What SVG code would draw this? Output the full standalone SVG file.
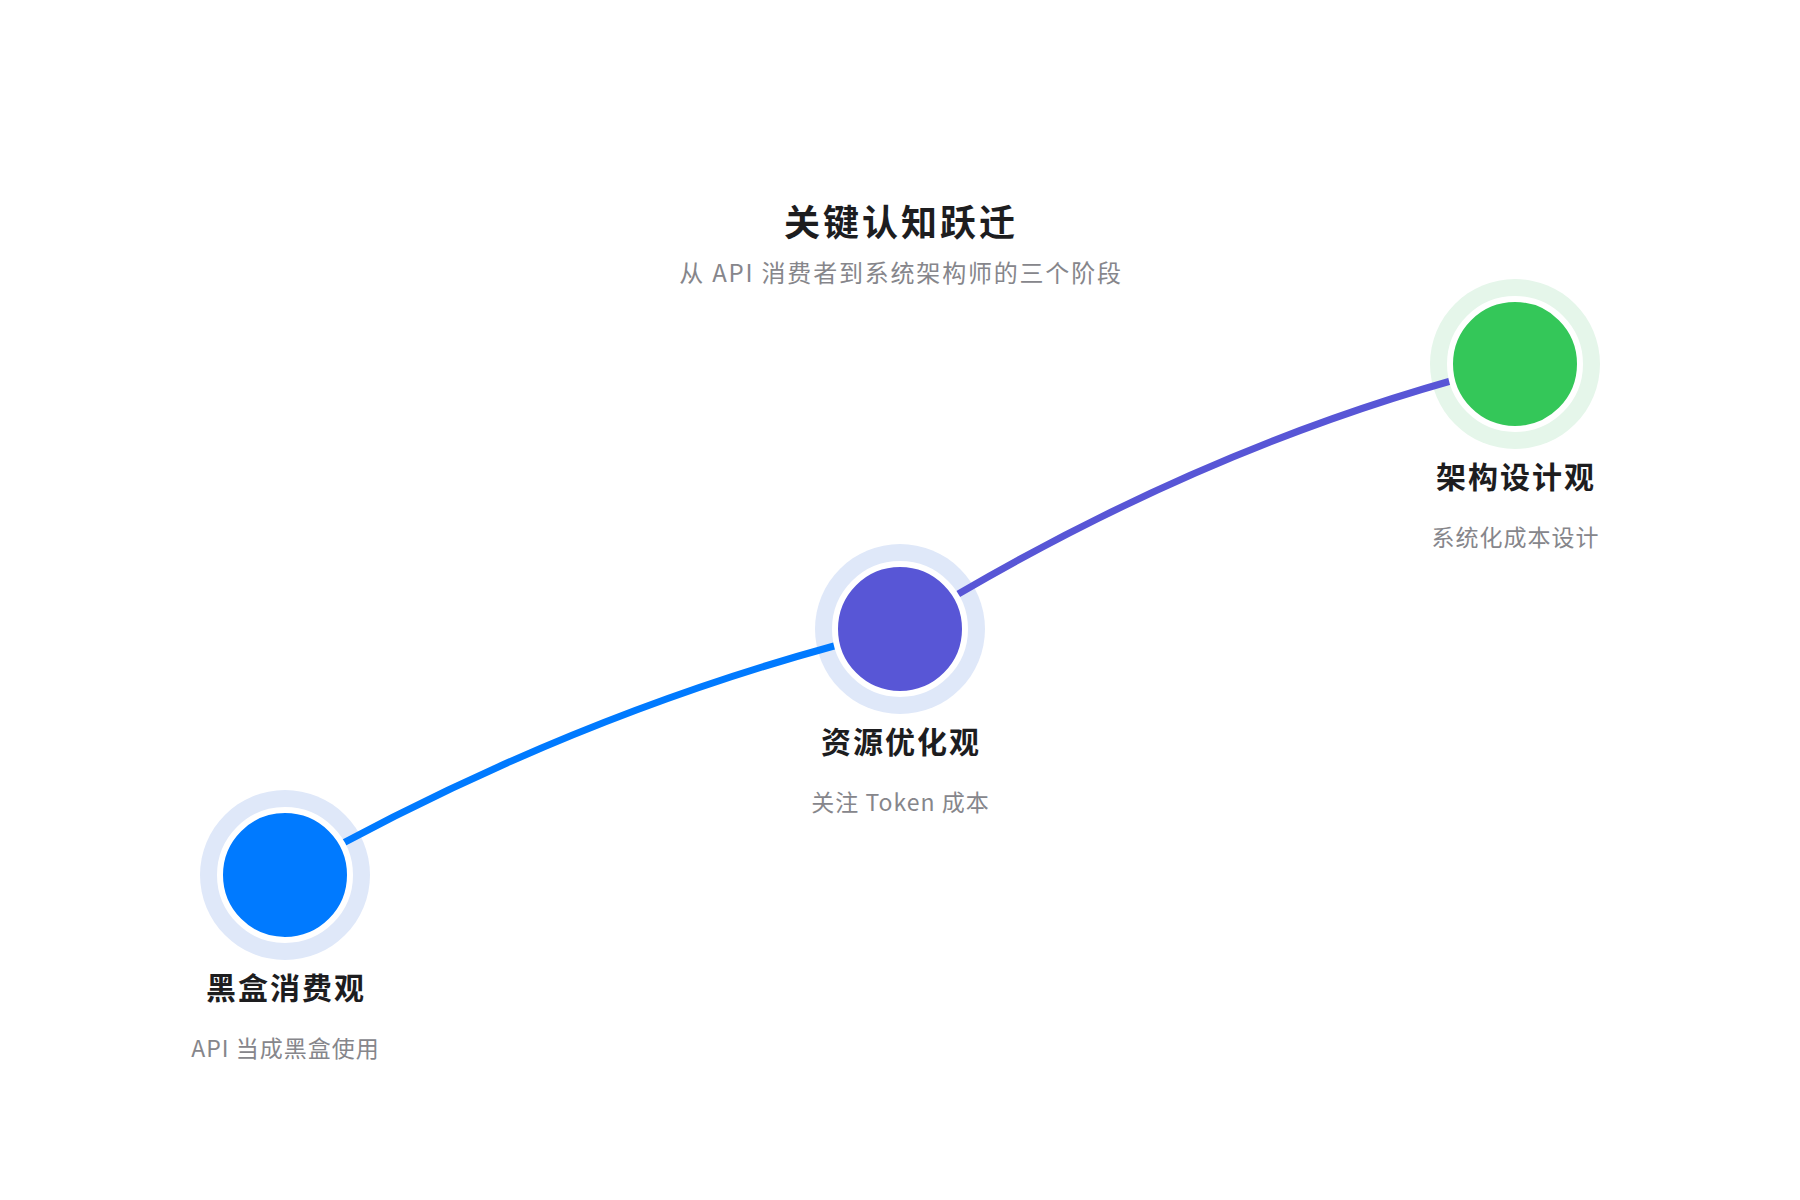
<svg xmlns="http://www.w3.org/2000/svg" width="1800" height="1200" viewBox="0 0 1800 1200">
<style>
.bg{fill:#ffffff}
.title{font-family:"Noto Sans CJK SC","Noto Sans",sans-serif;font-size:36px;font-weight:700;fill:#1d1d1f;text-anchor:middle;letter-spacing:3px}
.subtitle{font-family:"Noto Sans CJK SC","Noto Sans",sans-serif;font-size:24px;fill:#86868b;text-anchor:middle;letter-spacing:1.8px}
.ntitle{font-family:"Noto Sans CJK SC","Noto Sans",sans-serif;font-size:30px;font-weight:700;fill:#1d1d1f;text-anchor:middle;letter-spacing:2px}
.nsub{font-family:"Noto Sans CJK SC","Noto Sans",sans-serif;font-size:23px;fill:#86868b;text-anchor:middle;letter-spacing:1px}
.halo-blue{fill:#dfe8f9}
.halo-green{fill:#e5f6ea}
.dot{stroke:#ffffff;stroke-width:6}
.edge{fill:none;stroke-width:7;stroke-linecap:butt}
</style>
<rect class="bg" x="0" y="0" width="1800" height="1200"/>
<g id="header">
<text class="title" x="901" y="236">关键认知跃迁</text>
<text class="subtitle" x="901" y="282">从 API 消费者到系统架构师的三个阶段</text>
</g>
<g id="halos">
<circle class="halo-blue" cx="285" cy="875" r="85"/>
<circle class="halo-blue" cx="900" cy="629" r="85"/>
<circle class="halo-green" cx="1515" cy="364" r="85"/>
</g>
<g id="connectors">
<path class="edge" stroke="#007aff" d="M285 875 Q585 705 900 629"/>
<path class="edge" stroke="#5856d6" d="M900 629 Q1205 440 1515 364"/>
</g>
<g id="node-1">
<circle class="dot" cx="285" cy="875" r="65" fill="#007aff"/>
<text class="ntitle" x="286" y="999">黑盒消费观</text>
<text class="nsub" x="285.5" y="1057">API 当成黑盒使用</text>
</g>
<g id="node-2">
<circle class="dot" cx="900" cy="629" r="65" fill="#5856d6"/>
<text class="ntitle" x="901" y="753">资源优化观</text>
<text class="nsub" x="900.5" y="811">关注 Token 成本</text>
</g>
<g id="node-3">
<circle class="dot" cx="1515" cy="364" r="65" fill="#34c759"/>
<text class="ntitle" x="1516" y="488">架构设计观</text>
<text class="nsub" x="1515.5" y="546">系统化成本设计</text>
</g>
</svg>
